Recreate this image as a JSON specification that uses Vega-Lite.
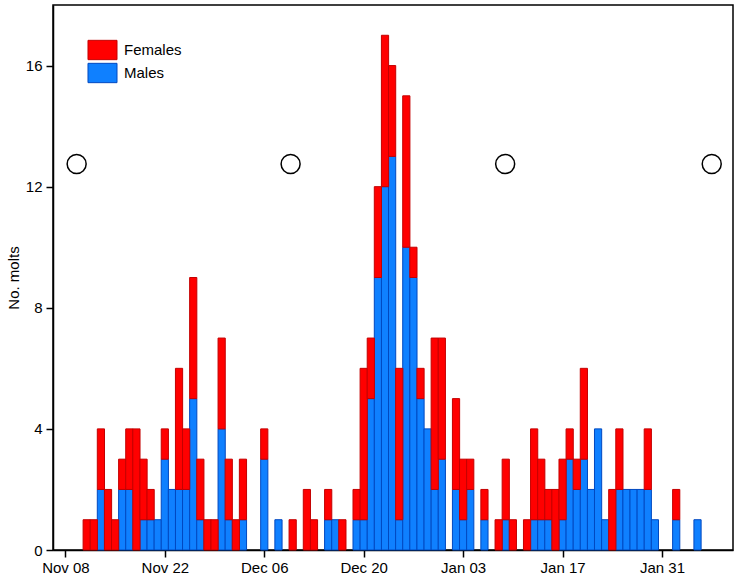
{
  "$schema": "https://vega.github.io/schema/vega-lite/v6.json",
  "width": 680,
  "height": 545,
  "autosize": {"type": "none"},
  "padding": {"left": 53, "top": 5, "right": 8, "bottom": 34},
  "background": "white",
  "config": {
    "font": "Liberation Sans",
    "view": {"stroke": "#000", "strokeWidth": 1.5},
    "axis": {"domainColor": "#000", "tickColor": "#000", "labelColor": "#000", "titleColor": "#000", "grid": false, "labelFontSize": 15, "titleFontSize": 15, "titleFontWeight": "normal", "tickSize": 7, "domainWidth": 1.5, "tickWidth": 1.5}
  },
  "datasets": {
    "molts": [
      {"date": "2012-11-13", "sex": "Males", "n": 2},
      {"date": "2012-11-16", "sex": "Males", "n": 2},
      {"date": "2012-11-17", "sex": "Males", "n": 2},
      {"date": "2012-11-19", "sex": "Males", "n": 1},
      {"date": "2012-11-20", "sex": "Males", "n": 1},
      {"date": "2012-11-21", "sex": "Males", "n": 1},
      {"date": "2012-11-22", "sex": "Males", "n": 3},
      {"date": "2012-11-23", "sex": "Males", "n": 2},
      {"date": "2012-11-24", "sex": "Males", "n": 2},
      {"date": "2012-11-25", "sex": "Males", "n": 2},
      {"date": "2012-11-26", "sex": "Males", "n": 5},
      {"date": "2012-11-27", "sex": "Males", "n": 1},
      {"date": "2012-11-30", "sex": "Males", "n": 4},
      {"date": "2012-12-01", "sex": "Males", "n": 1},
      {"date": "2012-12-03", "sex": "Males", "n": 1},
      {"date": "2012-12-06", "sex": "Males", "n": 3},
      {"date": "2012-12-08", "sex": "Males", "n": 1},
      {"date": "2012-12-15", "sex": "Males", "n": 1},
      {"date": "2012-12-16", "sex": "Males", "n": 1},
      {"date": "2012-12-19", "sex": "Males", "n": 1},
      {"date": "2012-12-20", "sex": "Males", "n": 1},
      {"date": "2012-12-21", "sex": "Males", "n": 5},
      {"date": "2012-12-22", "sex": "Males", "n": 9},
      {"date": "2012-12-23", "sex": "Males", "n": 12},
      {"date": "2012-12-24", "sex": "Males", "n": 13},
      {"date": "2012-12-25", "sex": "Males", "n": 1},
      {"date": "2012-12-26", "sex": "Males", "n": 10},
      {"date": "2012-12-27", "sex": "Males", "n": 9},
      {"date": "2012-12-28", "sex": "Males", "n": 5},
      {"date": "2012-12-29", "sex": "Males", "n": 4},
      {"date": "2012-12-30", "sex": "Males", "n": 2},
      {"date": "2012-12-31", "sex": "Males", "n": 3},
      {"date": "2013-01-02", "sex": "Males", "n": 2},
      {"date": "2013-01-03", "sex": "Males", "n": 1},
      {"date": "2013-01-04", "sex": "Males", "n": 2},
      {"date": "2013-01-06", "sex": "Males", "n": 1},
      {"date": "2013-01-09", "sex": "Males", "n": 1},
      {"date": "2013-01-13", "sex": "Males", "n": 1},
      {"date": "2013-01-14", "sex": "Males", "n": 1},
      {"date": "2013-01-15", "sex": "Males", "n": 1},
      {"date": "2013-01-17", "sex": "Males", "n": 1},
      {"date": "2013-01-18", "sex": "Males", "n": 3},
      {"date": "2013-01-19", "sex": "Males", "n": 2},
      {"date": "2013-01-20", "sex": "Males", "n": 3},
      {"date": "2013-01-21", "sex": "Males", "n": 2},
      {"date": "2013-01-22", "sex": "Males", "n": 4},
      {"date": "2013-01-23", "sex": "Males", "n": 1},
      {"date": "2013-01-25", "sex": "Males", "n": 2},
      {"date": "2013-01-26", "sex": "Males", "n": 2},
      {"date": "2013-01-27", "sex": "Males", "n": 2},
      {"date": "2013-01-28", "sex": "Males", "n": 2},
      {"date": "2013-01-29", "sex": "Males", "n": 2},
      {"date": "2013-01-30", "sex": "Males", "n": 1},
      {"date": "2013-02-02", "sex": "Males", "n": 1},
      {"date": "2013-02-05", "sex": "Males", "n": 1},
      {"date": "2012-11-11", "sex": "Females", "n": 1},
      {"date": "2012-11-12", "sex": "Females", "n": 1},
      {"date": "2012-11-13", "sex": "Females", "n": 2},
      {"date": "2012-11-14", "sex": "Females", "n": 2},
      {"date": "2012-11-15", "sex": "Females", "n": 1},
      {"date": "2012-11-16", "sex": "Females", "n": 1},
      {"date": "2012-11-17", "sex": "Females", "n": 2},
      {"date": "2012-11-18", "sex": "Females", "n": 4},
      {"date": "2012-11-19", "sex": "Females", "n": 2},
      {"date": "2012-11-20", "sex": "Females", "n": 1},
      {"date": "2012-11-22", "sex": "Females", "n": 1},
      {"date": "2012-11-24", "sex": "Females", "n": 4},
      {"date": "2012-11-25", "sex": "Females", "n": 2},
      {"date": "2012-11-26", "sex": "Females", "n": 4},
      {"date": "2012-11-27", "sex": "Females", "n": 2},
      {"date": "2012-11-28", "sex": "Females", "n": 1},
      {"date": "2012-11-29", "sex": "Females", "n": 1},
      {"date": "2012-11-30", "sex": "Females", "n": 3},
      {"date": "2012-12-01", "sex": "Females", "n": 2},
      {"date": "2012-12-02", "sex": "Females", "n": 1},
      {"date": "2012-12-03", "sex": "Females", "n": 2},
      {"date": "2012-12-06", "sex": "Females", "n": 1},
      {"date": "2012-12-10", "sex": "Females", "n": 1},
      {"date": "2012-12-12", "sex": "Females", "n": 2},
      {"date": "2012-12-13", "sex": "Females", "n": 1},
      {"date": "2012-12-15", "sex": "Females", "n": 1},
      {"date": "2012-12-17", "sex": "Females", "n": 1},
      {"date": "2012-12-19", "sex": "Females", "n": 1},
      {"date": "2012-12-20", "sex": "Females", "n": 5},
      {"date": "2012-12-21", "sex": "Females", "n": 2},
      {"date": "2012-12-22", "sex": "Females", "n": 3},
      {"date": "2012-12-23", "sex": "Females", "n": 5},
      {"date": "2012-12-24", "sex": "Females", "n": 3},
      {"date": "2012-12-25", "sex": "Females", "n": 5},
      {"date": "2012-12-26", "sex": "Females", "n": 5},
      {"date": "2012-12-27", "sex": "Females", "n": 1},
      {"date": "2012-12-28", "sex": "Females", "n": 1},
      {"date": "2012-12-30", "sex": "Females", "n": 5},
      {"date": "2012-12-31", "sex": "Females", "n": 4},
      {"date": "2013-01-02", "sex": "Females", "n": 3},
      {"date": "2013-01-03", "sex": "Females", "n": 2},
      {"date": "2013-01-04", "sex": "Females", "n": 1},
      {"date": "2013-01-06", "sex": "Females", "n": 1},
      {"date": "2013-01-08", "sex": "Females", "n": 1},
      {"date": "2013-01-09", "sex": "Females", "n": 2},
      {"date": "2013-01-10", "sex": "Females", "n": 1},
      {"date": "2013-01-12", "sex": "Females", "n": 1},
      {"date": "2013-01-13", "sex": "Females", "n": 3},
      {"date": "2013-01-14", "sex": "Females", "n": 2},
      {"date": "2013-01-15", "sex": "Females", "n": 1},
      {"date": "2013-01-16", "sex": "Females", "n": 2},
      {"date": "2013-01-17", "sex": "Females", "n": 2},
      {"date": "2013-01-18", "sex": "Females", "n": 1},
      {"date": "2013-01-19", "sex": "Females", "n": 1},
      {"date": "2013-01-20", "sex": "Females", "n": 3},
      {"date": "2013-01-24", "sex": "Females", "n": 2},
      {"date": "2013-01-25", "sex": "Females", "n": 2},
      {"date": "2013-01-29", "sex": "Females", "n": 2},
      {"date": "2013-02-02", "sex": "Females", "n": 1}
    ],
    "moons": [
      {"date": "2012-11-09T14:00:00Z", "y": 12.75},
      {"date": "2012-12-09T17:00:00Z", "y": 12.75},
      {"date": "2013-01-08T22:00:00Z", "y": 12.75},
      {"date": "2013-02-07T00:00:00Z", "y": 12.75}
    ]
  },
  "layer": [
    {
      "data": {"name": "molts"},
      "mark": {"type": "bar", "width": 7.2, "strokeWidth": 1, "opacity": 1},
      "encoding": {
        "x": {
          "field": "date", "type": "temporal",
          "scale": {"type": "utc", "domain": [{"year": 2012, "month": 11, "date": 6, "hours": 23, "utc": true}, {"year": 2013, "month": 2, "date": 9, "hours": 7, "utc": true}]},
          "axis": {
            "title": null, "format": "%b %d", "labelPadding": 3,
            "values": [
              {"year": 2012, "month": 11, "date": 8, "utc": true},
              {"year": 2012, "month": 11, "date": 22, "utc": true},
              {"year": 2012, "month": 12, "date": 6, "utc": true},
              {"year": 2012, "month": 12, "date": 20, "utc": true},
              {"year": 2013, "month": 1, "date": 3, "utc": true},
              {"year": 2013, "month": 1, "date": 17, "utc": true},
              {"year": 2013, "month": 1, "date": 31, "utc": true}
            ]
          }
        },
        "y": {
          "field": "n", "type": "quantitative", "stack": "zero",
          "scale": {"domain": [0, 18], "nice": false},
          "axis": {"title": "No. molts", "values": [0, 4, 8, 12, 16], "labelPadding": 4, "titlePadding": 4}
        },
        "color": {
          "field": "sex", "type": "nominal",
          "scale": {"domain": ["Females", "Males"], "range": ["#FF0000", "#0F80FF"]},
          "legend": {"title": null, "orient": "none", "legendX": 39, "legendY": 34.5, "symbolType": "M-1.5,-1H1.5V1H-1.5Z", "symbolSize": 374, "labelFontSize": 15, "labelOffset": 11, "rowPadding": -2, "symbolStrokeWidth": 1}
        },
        "stroke": {
          "field": "sex", "type": "nominal",
          "scale": {"domain": ["Females", "Males"], "range": ["#C40000", "#0048C0"]},
          "legend": {"title": null, "orient": "none", "legendX": 39, "legendY": 34.5, "symbolType": "M-1.5,-1H1.5V1H-1.5Z", "symbolSize": 374, "labelFontSize": 15, "labelOffset": 11, "rowPadding": -2, "symbolStrokeWidth": 1}
        },
        "order": {"field": "sex", "sort": "descending"}
      }
    },
    {
      "data": {"name": "moons"},
      "mark": {"type": "point", "shape": "circle", "size": 361, "filled": false, "stroke": "#000", "strokeWidth": 1.5, "opacity": 1},
      "encoding": {
        "x": {"field": "date", "type": "temporal"},
        "y": {"field": "y", "type": "quantitative"}
      }
    }
  ]
}
